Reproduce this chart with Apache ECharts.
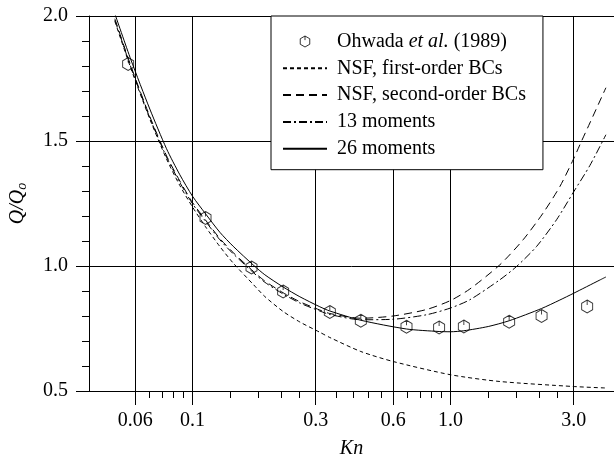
<!DOCTYPE html>
<html><head><meta charset="utf-8">
<script src="https://cdn.jsdelivr.net/npm/echarts@6/dist/echarts.min.js"></script>
<style>html,body{margin:0;padding:0;background:#fff}#c{width:614px;height:457px}</style>
</head><body><div id="c"></div>
<script>
// ---- data ----
const seriesNames = ['Ohwada et al. (1989)', 'NSF, first-order BCs', 'NSF, second-order BCs', '13 moments', '26 moments'];

const knOhwada = [0.0563, 0.1123, 0.1693, 0.2245, 0.3405, 0.449, 0.675, 0.903, 1.126, 1.687, 2.253, 3.384];
const qOhwada  = [1.808, 1.192, 0.994, 0.898, 0.816, 0.781, 0.757, 0.754, 0.758, 0.777, 0.800, 0.838];

const knFirst = [0.05, 0.0577, 0.0683, 0.0793, 0.0893, 0.1, 0.1123, 0.1276, 0.1437, 0.1728, 0.1906, 0.2245, 0.2606, 0.3113, 0.3405, 0.449, 0.599, 1.0, 1.553, 2.987, 4.0];
const qFirst  = [1.979, 1.79, 1.588, 1.428, 1.322, 1.236, 1.157, 1.078, 1.012, 0.924, 0.878, 0.818, 0.776, 0.735, 0.714, 0.658, 0.618, 0.565, 0.538, 0.518, 0.512];

const knSecond = [0.05, 0.0577, 0.0683, 0.0793, 0.0893, 0.1, 0.1123, 0.1276, 0.1437, 0.1728, 0.1906, 0.2245, 0.2606, 0.3113, 0.3405, 0.449, 0.599, 0.807, 1.0, 1.188, 1.553, 1.911, 2.285, 2.653, 2.987, 3.22, 3.467, 4.0];
const qSecond  = [1.989, 1.80, 1.598, 1.441, 1.34, 1.254, 1.184, 1.11, 1.054, 0.977, 0.94, 0.893, 0.857, 0.824, 0.81, 0.791, 0.80, 0.826, 0.862, 0.908, 1.005, 1.105, 1.212, 1.318, 1.425, 1.50, 1.572, 1.713];

const kn13 = [0.05, 0.0577, 0.0683, 0.0793, 0.0893, 0.1, 0.1123, 0.1276, 0.1437, 0.1728, 0.1906, 0.2245, 0.2606, 0.3113, 0.3405, 0.449, 0.599, 0.807, 1.0, 1.188, 1.553, 1.802, 2.154, 2.575, 3.006, 3.467, 4.0];
const q13  = [1.984, 1.795, 1.593, 1.436, 1.334, 1.249, 1.179, 1.105, 1.049, 0.972, 0.935, 0.888, 0.852, 0.82, 0.806, 0.785, 0.787, 0.805, 0.832, 0.865, 0.945, 0.998, 1.078, 1.185, 1.298, 1.402, 1.525];

const kn26 = [0.05, 0.0577, 0.0683, 0.0793, 0.0893, 0.1, 0.1123, 0.1276, 0.1437, 0.1728, 0.1906, 0.2245, 0.2606, 0.3113, 0.3405, 0.449, 0.675, 0.903, 1.0, 1.126, 1.4, 1.687, 2.253, 2.653, 2.987, 3.791, 4.0];
const q26  = [2.009, 1.825, 1.628, 1.469, 1.365, 1.279, 1.209, 1.135, 1.079, 1.002, 0.965, 0.916, 0.877, 0.837, 0.82, 0.783, 0.748, 0.738, 0.737, 0.741, 0.758, 0.781, 0.830, 0.864, 0.890, 0.944, 0.956];

const xMajorTicks = [0.06, 0.1, 0.3, 0.6, 1.0, 3.0];
const xTickLabels = ['0.06', '0.1', '0.3', '0.6', '1.0', '3.0'];
const xMinorTicks = [0.068, 0.076, 0.084, 0.092, 0.14, 0.18, 0.22, 0.26, 0.36, 0.42, 0.48, 0.54, 0.68, 0.76, 0.84, 0.92, 1.4, 1.8, 2.2, 2.6];
const xRange = [0.0397, 4.3];
const yRange = [0.5, 2.0];

// ---- chart ----
const L = Math.log10;
const pairs = (xs, ys) => xs.map((k, i) => [L(k), ys[i]]);
const FONT = "'Liberation Serif','DejaVu Serif',serif";
const hexPath = 'path://M0,-1L0.866,-0.5L0.866,0.5L0,1L-0.866,0.5L-0.866,-0.5ZM0,-1L0,-0.25';
const CLEAR = 'rgba(0,0,0,0)';

const chart = echarts.init(document.getElementById('c'), null, {renderer: 'canvas'});
const lineBase = (name, xs, ys, type) => ({
  name, type: 'line', data: pairs(xs, ys), xAxisIndex: 0, yAxisIndex: 0,
  symbol: 'none', smooth: 0.25, clip: true, z: 3,
  lineStyle: {color: '#000', width: 1, type},
  itemStyle: {color: CLEAR, borderWidth: 0, borderColor: CLEAR},
  emphasis: {disabled: true}
});

chart.setOption({
  animation: false,
  backgroundColor: '#fff',
  grid: {left: 89, right: 0, top: 16, bottom: 66, containLabel: false, outerBoundsMode: 'none'},
  xAxis: [{
    type: 'value', min: L(xRange[0]), max: L(xRange[1]),
    name: 'Kn', nameLocation: 'middle', nameGap: 48,
    nameTextStyle: {fontFamily: FONT, fontSize: 20, fontStyle: 'italic', color: '#000'},
    axisLine: {show: true, onZero: false, lineStyle: {color: '#000', width: 1}},
    axisTick: {show: true, inside: false, length: 14, lineStyle: {color: '#000', width: 1}, customValues: xMajorTicks.map(L)},
    axisLabel: {show: true, margin: 20, fontFamily: FONT, fontSize: 20, color: '#000',
      customValues: xMajorTicks.map(L),
      formatter: v => { const i = xMajorTicks.findIndex(t => Math.abs(L(t) - v) < 1e-6); return i >= 0 ? xTickLabels[i] : ''; }},
    splitLine: {show: true, lineStyle: {color: '#000', width: 1}}
  }, {
    type: 'value', min: L(xRange[0]), max: L(xRange[1]), position: 'bottom',
    axisLine: {show: false, onZero: false},
    axisTick: {show: true, inside: false, length: 7, lineStyle: {color: '#000', width: 1}, customValues: xMinorTicks.map(L)},
    axisLabel: {show: false},
    splitLine: {show: false}
  }],
  yAxis: [{
    type: 'value', min: yRange[0], max: yRange[1], interval: 0.5,
    name: '{q|Q/Q}{s|o}', nameLocation: 'middle', nameGap: 60, nameRotate: 90,
    nameTextStyle: {color: '#000', rich: {
      q: {fontFamily: FONT, fontSize: 20, fontStyle: 'italic', color: '#000'},
      s: {fontFamily: FONT, fontSize: 14, fontStyle: 'italic', color: '#000', verticalAlign: 'bottom', padding: [8, 0, 0, 0]}
    }},
    axisLine: {show: true, onZero: false, lineStyle: {color: '#000', width: 1}},
    axisTick: {show: true, inside: false, length: 13, lineStyle: {color: '#000', width: 1}},
    minorTick: {show: true, splitNumber: 5, length: 7, lineStyle: {color: '#000', width: 1}},
    axisLabel: {margin: 21, fontFamily: FONT, fontSize: 20, color: '#000', formatter: v => v.toFixed(1)},
    splitLine: {show: true, lineStyle: {color: '#000', width: 1}}
  }],
  legend: {
    show: true, orient: 'vertical', left: 271, top: 16,
    padding: [15.5, 17, 11, 11], itemGap: 6.8, itemWidth: 44, itemHeight: 11,
    backgroundColor: '#fff', borderColor: '#000', borderWidth: 1,
    data: seriesNames.map((n, i) => i === 0
      ? {name: n, itemStyle: {color: CLEAR, borderColor: '#000', borderWidth: 1}}
      : {name: n, itemStyle: {color: CLEAR, borderWidth: 0, borderColor: CLEAR}}),
    textStyle: {fontFamily: FONT, fontSize: 20, color: '#000', padding: [0, 0, 0, 5],
      rich: {i: {fontFamily: FONT, fontSize: 20, fontStyle: 'italic', color: '#000'}}},
    formatter: name => name === seriesNames[0] ? 'Ohwada {i|et al.} (1989)' : name,
    selectedMode: false
  },
  series: [
    {
      name: seriesNames[0], type: 'scatter', data: pairs(knOhwada, qOhwada),
      symbol: hexPath, symbolSize: [11, 13], symbolKeepAspect: false, z: 4,
      itemStyle: {color: CLEAR, borderColor: '#000', borderWidth: 1},
      emphasis: {disabled: true}
    },
    lineBase(seriesNames[1], knFirst, qFirst, [4, 3]),
    lineBase(seriesNames[2], knSecond, qSecond, [8, 5]),
    lineBase(seriesNames[3], kn13, q13, [8, 3, 2, 3]),
    lineBase(seriesNames[4], kn26, q26, 'solid')
  ]
});
</script>
</body></html>
